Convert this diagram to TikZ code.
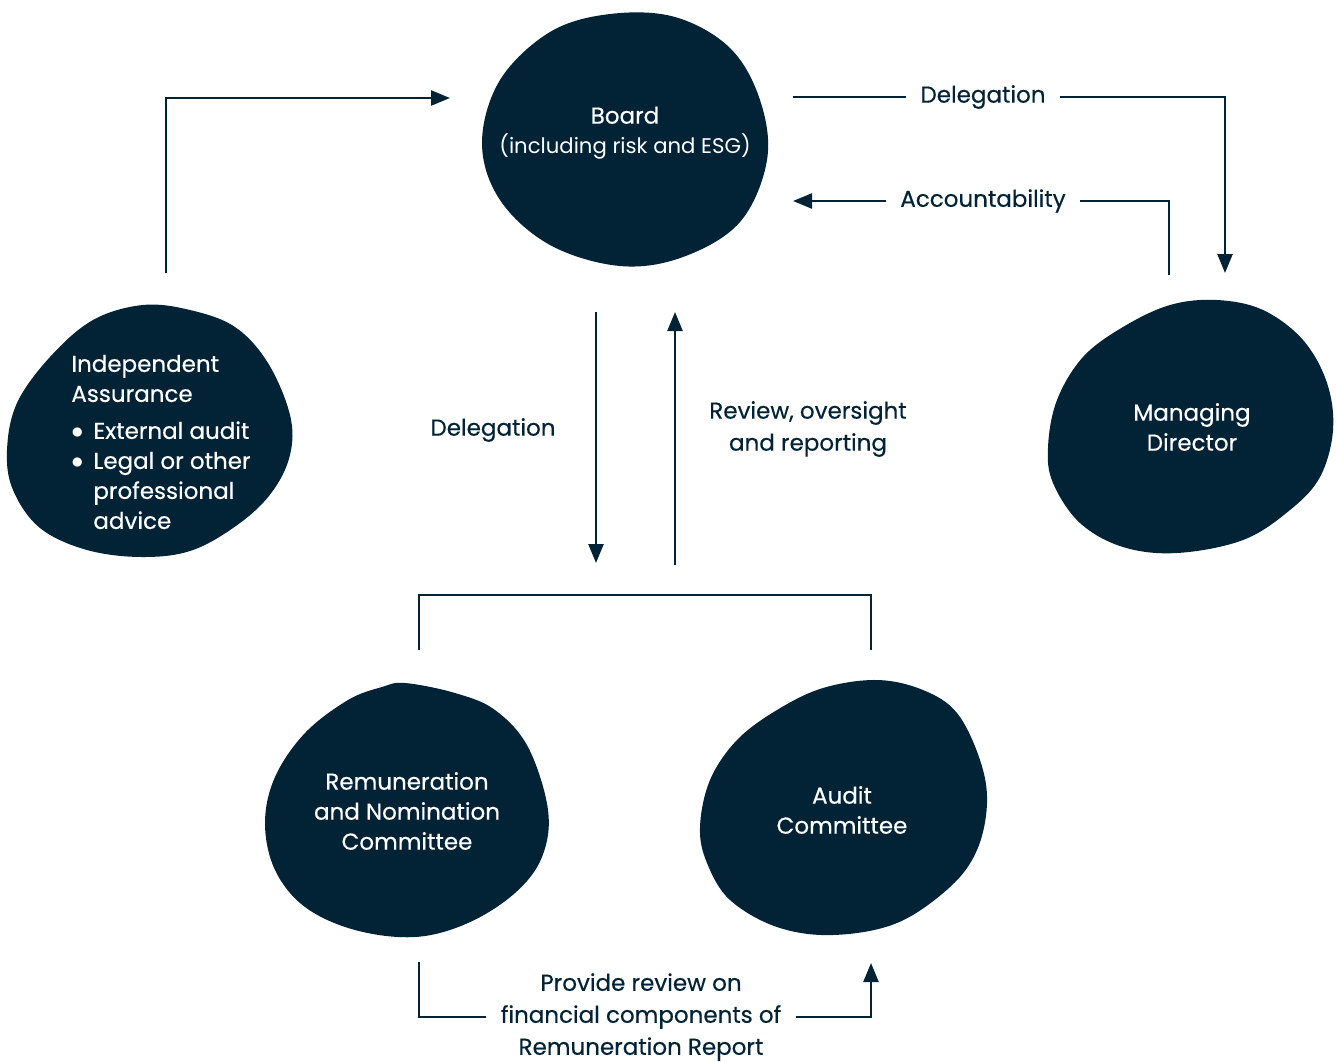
\documentclass[tikz,border=0pt]{standalone}
\usepackage{fontspec}
\setmainfont{Poppins}
\usepackage{xcolor}
\usepackage{tikz}
\usetikzlibrary{positioning,arrows.meta}

\definecolor{navy}{RGB}{2,34,53}
\newcommand{\bul}{\makebox[11pt][l]{$\bullet$}}
\tikzset{
	blob/.style={fill=navy},
	blobtext/.style={text=white, align=center, inner sep=0, font=\fontsize{11.5}{15}\selectfont\addfontfeatures{FakeBold=0.4}},
	lbl/.style={text=navy, align=center, inner ysep=0, inner xsep=7pt, font=\fontsize{11.5}{16}\selectfont\addfontfeatures{FakeBold=0.4}},
	conn/.style={draw=navy, line width=1.2pt},
	arr/.style={conn, -{Triangle[length=9.5pt,width=7.5pt]}},
}

\begin{document}
\begin{tikzpicture}[x=0.5pt,y=-0.5pt]
	\useasboundingbox (0,0) rectangle (1336,1061);
	% blobs
	\fill[blob] plot[smooth cycle, tension=0.6] coordinates {(610,14) (675,17) (730,48) (760,100) (767,160) (740,222) (683,257) (620,266) (550,245) (500,200) (482,143) (500,80) (550,32)};
	\fill[blob] plot[smooth cycle, tension=0.6] coordinates {(143,305) (190,310) (235,327) (268,363) (290,415) (290,455) (272,492) (240,523) (193,550) (143,557) (87,550) (40,528) (13,490) (7,450) (17,403) (50,357) (93,320)};
	\fill[blob] plot[smooth cycle, tension=0.6] coordinates {(1217,300) (1263,310) (1303,340) (1327,383) (1333,430) (1320,477) (1290,510) (1243,540) (1177,553) (1123,547) (1080,523) (1053,483) (1048,447) (1057,400) (1083,357) (1123,327) (1170,305)};
	\fill[blob] plot[smooth cycle, tension=0.6] coordinates {(405,683) (455,693) (495,710) (528,747) (548,810) (542,857) (515,893) (468,923) (415,937) (355,930) (305,907) (275,870) (265,823) (275,777) (305,733) (348,700) (382,687)};
	\fill[blob] plot[smooth cycle, tension=0.6] coordinates {(877,680) (923,690) (957,713) (980,760) (987,803) (977,850) (950,887) (897,923) (833,935) (777,927) (730,900) (707,863) (700,827) (710,780) (737,740) (777,710) (823,688)};

	\node[blobtext] (board) at (625,133) {Board\\{\fontsize{10.6}{15}\selectfont\addfontfeatures{FakeBold=0}(including risk and ESG)}};
	\node[blobtext, align=left, anchor=west] (assurance) at (71,442) {Independent\\Assurance\\[3.5pt]
		\bul External audit\\
		\bul Legal or other\\
		\hspace*{11pt}professional\\
		\hspace*{11pt}advice};
	\node[blobtext] (md) at (1192,427) {Managing\\Director};
	\node[blobtext] (remco) at (407,811) {Remuneration\\and Nomination\\Committee};
	\node[blobtext] (audit) at (842,810) {Audit\\Committee};

	% labels
	\node[lbl] (delTop) at (983,97) {Delegation};
	\node[lbl] (acc) at (983,201) {Accountability};
	\node[lbl] (delMid) at (493,430) {Delegation};
	\node[lbl] (review) at (808,429) {Review, oversight\\and reporting};
	\node[lbl] (provide) at (641,1017) {Provide review on\\financial components of\\Remuneration Report};

	% connector ends
	\coordinate (iaS) at (166,273);
	\coordinate (boardW) at (450,98);
	\coordinate (boardNE) at (793,97);
	\coordinate (boardE) at (793,201);
	\coordinate (mdN) at (1225,273);
	\coordinate (mdA) at (1169,275);
	\coordinate (dTop) at (596,312);
	\coordinate (dBot) at (596,563);
	\coordinate (uBot) at (675,565);
	\coordinate (uTop) at (675,312);
	\coordinate (remN) at (419,650);
	\coordinate (audN) at (871,650);
	\coordinate (remS) at (419,962);
	\coordinate (audS) at (871,963);

	% connectors
	\draw[arr] (iaS) |- (boardW);
	\draw[conn] (boardNE) -- (delTop.west);
	\draw[arr] (delTop.east) -| (mdN);
	\draw[conn] (mdA) |- (acc.east);
	\draw[arr] (acc.west) -- (boardE);
	\draw[arr] (dTop) -- (dBot);
	\draw[arr] (uBot) -- (uTop);
	\draw[conn] (remN) -- ++(0,-55) -| (audN);
	\draw[conn] (remS) |- (provide.west);
	\draw[arr] (provide.east) -| (audS);
\end{tikzpicture}
\end{document}
